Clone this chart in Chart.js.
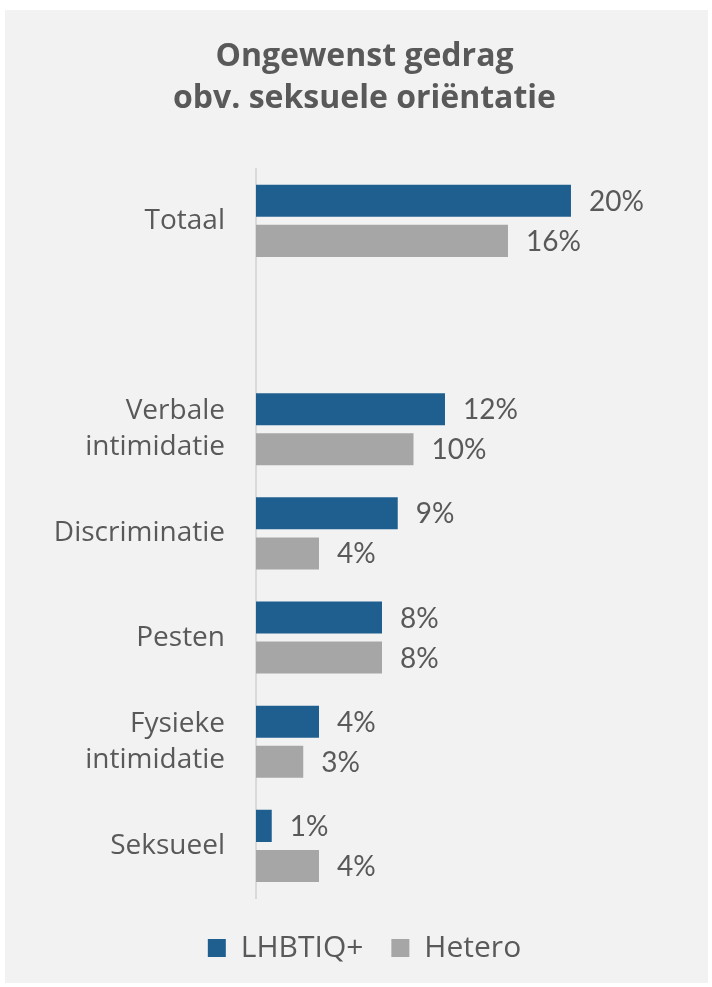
<!DOCTYPE html>
<html><head><meta charset="utf-8">
<script src="https://cdn.jsdelivr.net/npm/chart.js@4"></script>
<style>
html,body{margin:0;padding:0;background:#fff;}
#panel{position:absolute;left:5px;top:10px;width:703px;height:973px;background:#f2f2f2;}
canvas{display:block;}
</style></head><body>
<div id="panel"><canvas id="c" width="703" height="973"></canvas></div>
<script>
// Categories (the empty entry leaves a gap under "Totaal")
const categories = [['Totaal'], '', ['Verbale', 'intimidatie'], ['Discriminatie'], ['Pesten'], ['Fysieke', 'intimidatie'], ['Seksueel']];
const seriesNames = ['LHBTIQ+', 'Hetero'];
const lhbtiq = [20, null, 12, 9, 8, 4, 1];
const hetero = [16, null, 10, 4, 8, 3, 4];
const titleLines = ['Ongewenst gedrag', 'obv. seksuele oriëntatie'];

const TEXT = '#595959';

// Percentage labels at the end of each bar
const valueLabels = {
  id: 'valueLabels',
  afterDatasetsDraw(chart) {
    const ctx = chart.ctx;
    ctx.save();
    ctx.font = '28px Lato';
    ctx.fillStyle = TEXT;
    ctx.textAlign = 'left';
    ctx.textBaseline = 'middle';
    chart.data.datasets.forEach((ds, i) => {
      chart.getDatasetMeta(i).data.forEach((bar, j) => {
        const v = ds.data[j];
        if (v === null || v === undefined) return;
        ctx.fillText(v + '%', bar.x + 18, bar.y + 1);
      });
    });
    ctx.restore();
  }
};

new Chart(document.getElementById('c'), {
  type: 'bar',
  data: {
    labels: categories,
    datasets: [
      { label: seriesNames[0], data: lhbtiq, backgroundColor: '#1f5f90' },
      { label: seriesNames[1], data: hetero, backgroundColor: '#a6a6a6' }
    ]
  },
  options: {
    indexAxis: 'y',
    responsive: false,
    animation: false,
    categoryPercentage: 80 / 104,
    barPercentage: 0.8,
    layout: { padding: { left: 16, right: 0, top: 0, bottom: 10 } },
    plugins: {
      title: {
        display: true,
        text: titleLines,
        color: TEXT,
        font: { family: "'Open Sans'", size: 32, weight: 'bold', lineHeight: 1.34 },
        padding: { top: 25, bottom: 48 }
      },
      legend: {
        position: 'bottom',
        labels: {
          color: TEXT,
          font: { family: "'Open Sans'", size: 30 },
          boxWidth: 18,
          boxHeight: 18,
          padding: 28
        }
      },
      tooltip: { enabled: false }
    },
    scales: {
      x: {
        display: true,
        min: 0,
        max: 28.7,
        grid: { display: false, drawTicks: false },
        border: { display: false },
        ticks: { display: false },
        // empty strip between the bars and the legend
        afterFit(scale) { scale.height = 7; }
      },
      y: {
        grid: { display: false, drawTicks: false },
        border: { display: true, color: '#d9d9d9', width: 2 },
        ticks: {
          color: TEXT,
          font: { family: "'Open Sans'", size: 28, lineHeight: 1.3 },
          padding: 31
        },
        afterFit(scale) { scale.width = 235; }
      }
    }
  },
  plugins: [valueLabels]
});
</script>
</body></html>
